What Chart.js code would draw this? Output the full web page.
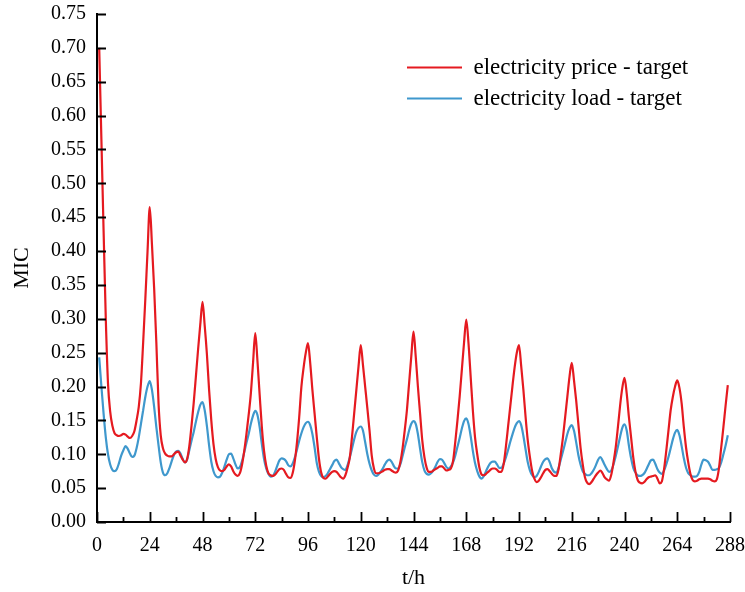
<!DOCTYPE html>
<html>
<head>
<meta charset="utf-8">
<script src="https://cdn.jsdelivr.net/npm/chart.js@4/dist/chart.umd.min.js"></script>
<style>
  html, body { margin: 0; padding: 0; background: #ffffff; }
  #wrap { width: 745px; height: 592px; }
</style>
</head>
<body>
<div id="wrap"><canvas id="c" width="745" height="592"></canvas></div>
<script>
// hour index (t/h)
const hours = Array.from({ length: 287 }, (_, i) => i + 1);

const seriesNames = ['electricity price - target', 'electricity load - target'];

// MIC: electricity price vs target
const priceMIC = [
  0.700, 0.565, 0.430, 0.300, 0.205, 0.163, 0.142, 0.131, 0.128, 0.127, 0.128, 0.130, 0.129, 0.126, 0.124, 0.127, 0.134, 0.150, 0.170, 0.205, 0.265, 0.330, 0.400, 0.465,
  0.410, 0.345, 0.265, 0.175, 0.128, 0.109, 0.101, 0.098, 0.097, 0.097, 0.100, 0.103, 0.104, 0.098, 0.092, 0.088, 0.093, 0.112, 0.142, 0.176, 0.215, 0.255, 0.292, 0.325,
  0.290, 0.248, 0.195, 0.150, 0.115, 0.093, 0.081, 0.076, 0.075, 0.077, 0.082, 0.085, 0.082, 0.075, 0.070, 0.068, 0.072, 0.085, 0.105, 0.130, 0.158, 0.190, 0.235, 0.279,
  0.238, 0.188, 0.140, 0.105, 0.083, 0.072, 0.069, 0.068, 0.070, 0.074, 0.078, 0.079, 0.077, 0.071, 0.066, 0.065, 0.072, 0.090, 0.118, 0.155, 0.200, 0.228, 0.250, 0.264,
  0.235, 0.195, 0.160, 0.125, 0.093, 0.073, 0.065, 0.064, 0.067, 0.071, 0.074, 0.075, 0.074, 0.070, 0.066, 0.064, 0.069, 0.080, 0.095, 0.125, 0.160, 0.195, 0.230, 0.261,
  0.232, 0.200, 0.168, 0.135, 0.098, 0.079, 0.072, 0.072, 0.073, 0.075, 0.077, 0.078, 0.078, 0.076, 0.074, 0.073, 0.076, 0.088, 0.108, 0.135, 0.165, 0.205, 0.245, 0.281,
  0.245, 0.200, 0.160, 0.120, 0.095, 0.080, 0.074, 0.074, 0.076, 0.078, 0.080, 0.082, 0.082, 0.079, 0.076, 0.077, 0.079, 0.090, 0.118, 0.150, 0.185, 0.225, 0.265, 0.299,
  0.265, 0.215, 0.165, 0.125, 0.100, 0.080, 0.070, 0.069, 0.071, 0.074, 0.077, 0.079, 0.079, 0.077, 0.074, 0.074, 0.085, 0.110, 0.140, 0.170, 0.200, 0.228, 0.250, 0.261,
  0.230, 0.195, 0.155, 0.120, 0.095, 0.075, 0.064, 0.059, 0.061, 0.066, 0.072, 0.077, 0.078, 0.075, 0.071, 0.068, 0.068, 0.078, 0.100, 0.125, 0.155, 0.185, 0.215, 0.235,
  0.210, 0.180, 0.145, 0.110, 0.085, 0.066, 0.058, 0.056, 0.059, 0.064, 0.069, 0.073, 0.076, 0.072, 0.066, 0.063, 0.061, 0.070, 0.088, 0.110, 0.140, 0.172, 0.198, 0.213,
  0.190, 0.155, 0.125, 0.095, 0.074, 0.062, 0.058, 0.057, 0.059, 0.063, 0.066, 0.067, 0.068, 0.069, 0.064, 0.057, 0.060, 0.078, 0.105, 0.135, 0.165, 0.185, 0.200, 0.209,
  0.198, 0.175, 0.140, 0.110, 0.088, 0.071, 0.062, 0.060, 0.061, 0.063, 0.064, 0.064, 0.064, 0.064, 0.063, 0.061, 0.060, 0.063, 0.080, 0.110, 0.140, 0.172, 0.202
];

// MIC: electricity load vs target
const loadMIC = [
  0.243, 0.200, 0.160, 0.125, 0.100, 0.085, 0.077, 0.075, 0.078, 0.087, 0.098, 0.106, 0.112, 0.108, 0.101, 0.096, 0.098, 0.109, 0.125, 0.145, 0.165, 0.185, 0.200, 0.208,
  0.195, 0.170, 0.140, 0.113, 0.088, 0.073, 0.069, 0.072, 0.080, 0.090, 0.099, 0.104, 0.105, 0.101, 0.093, 0.088, 0.092, 0.106, 0.120, 0.133, 0.148, 0.162, 0.173, 0.177,
  0.165, 0.142, 0.113, 0.089, 0.075, 0.068, 0.066, 0.067, 0.073, 0.082, 0.092, 0.100, 0.101, 0.094, 0.085, 0.079, 0.081, 0.090, 0.103, 0.117, 0.130, 0.145, 0.157, 0.164,
  0.158, 0.140, 0.115, 0.093, 0.079, 0.071, 0.067, 0.068, 0.074, 0.083, 0.091, 0.094, 0.093, 0.090, 0.084, 0.082, 0.086, 0.095, 0.107, 0.120, 0.131, 0.140, 0.146, 0.148,
  0.143, 0.130, 0.110, 0.087, 0.074, 0.068, 0.066, 0.068, 0.072, 0.078, 0.084, 0.090, 0.092, 0.087, 0.081, 0.078, 0.077, 0.084, 0.095, 0.108, 0.122, 0.133, 0.139, 0.141,
  0.135, 0.118, 0.100, 0.086, 0.076, 0.070, 0.068, 0.070, 0.074, 0.079, 0.085, 0.090, 0.092, 0.089, 0.083, 0.079, 0.079, 0.085, 0.097, 0.110, 0.122, 0.135, 0.145, 0.149,
  0.145, 0.130, 0.108, 0.088, 0.076, 0.071, 0.070, 0.072, 0.076, 0.082, 0.089, 0.093, 0.092, 0.087, 0.081, 0.079, 0.082, 0.088, 0.098, 0.111, 0.124, 0.138, 0.149, 0.153,
  0.145, 0.127, 0.105, 0.087, 0.075, 0.067, 0.064, 0.068, 0.075, 0.082, 0.087, 0.089, 0.089, 0.085, 0.080, 0.080, 0.086, 0.095, 0.106, 0.118, 0.129, 0.139, 0.146, 0.149,
  0.143, 0.127, 0.107, 0.088, 0.076, 0.069, 0.066, 0.068, 0.074, 0.082, 0.089, 0.093, 0.094, 0.088, 0.079, 0.074, 0.073, 0.080, 0.092, 0.104, 0.117, 0.130, 0.139, 0.143,
  0.135, 0.118, 0.099, 0.085, 0.075, 0.071, 0.069, 0.069, 0.072, 0.077, 0.084, 0.092, 0.096, 0.091, 0.084, 0.078, 0.074, 0.076, 0.085, 0.097, 0.111, 0.126, 0.139, 0.144,
  0.135, 0.113, 0.094, 0.080, 0.073, 0.069, 0.068, 0.069, 0.072, 0.078, 0.085, 0.091, 0.092, 0.086, 0.078, 0.073, 0.071, 0.076, 0.085, 0.096, 0.109, 0.122, 0.132, 0.136,
  0.128, 0.112, 0.094, 0.080, 0.072, 0.069, 0.067, 0.067, 0.068, 0.074, 0.085, 0.092, 0.091, 0.089, 0.083, 0.077, 0.077, 0.078, 0.080, 0.088, 0.100, 0.113, 0.128
];

const xTicks = [0, 24, 48, 72, 96, 120, 144, 168, 192, 216, 240, 264, 288];
const yTicks = [0, 0.05, 0.10, 0.15, 0.20, 0.25, 0.30, 0.35, 0.40, 0.45, 0.50, 0.55, 0.60, 0.65, 0.70, 0.75];

const FONT = "'Liberation Serif', 'Times New Roman', serif";
const RED = '#E51A20';
const BLUE = '#3F98CD';

const toPoints = (vals) => vals.map((v, i) => ({ x: hours[i], y: v }));

// inward tick marks drawn on the library's own scales
const inwardTicks = {
  id: 'inwardTicks',
  afterDraw(chart) {
    const { ctx, chartArea, scales } = chart;
    const xs = scales.x, ys = scales.y;
    ctx.save();
    ctx.strokeStyle = '#000';
    ctx.lineWidth = 1.8;
    ctx.beginPath();
    yTicks.forEach(v => {
      const py = Math.round(ys.getPixelForValue(v)) + 0.5;
      ctx.moveTo(chartArea.left, py);
      ctx.lineTo(chartArea.left + 9, py);
    });
    for (let t = 0; t <= 288; t += 12) {
      const px = Math.round(xs.getPixelForValue(t)) + 0.5;
      const len = (t % 24 === 0) ? 10 : 5;
      ctx.moveTo(px, chartArea.bottom);
      ctx.lineTo(px, chartArea.bottom - len);
    }
    ctx.stroke();
    ctx.restore();
  }
};

// place the legend box inside the plot, upper right
const legendPlacer = {
  id: 'legendPlacer',
  afterLayout(chart) {
    const lg = chart.legend;
    if (!lg) return;
    lg.left = 399; lg.top = 48; lg.right = 745; lg.bottom = 300;
    lg.width = lg.right - lg.left; lg.height = lg.bottom - lg.top;
  }
};

new Chart(document.getElementById('c'), {
  type: 'line',
  data: {
    datasets: [
      { label: seriesNames[0], data: toPoints(priceMIC), borderColor: RED, backgroundColor: RED,
        borderWidth: 2.2, pointRadius: 0, cubicInterpolationMode: 'monotone', fill: false },
      { label: seriesNames[1], data: toPoints(loadMIC), borderColor: BLUE, backgroundColor: BLUE,
        borderWidth: 2.2, pointRadius: 0, cubicInterpolationMode: 'monotone', fill: false }
    ]
  },
  options: {
    responsive: false,
    animation: false,
    devicePixelRatio: 1,
    layout: { padding: { left: 0, right: 15, top: 14, bottom: 0 } },
    plugins: {
      legend: {
        position: 'chartArea',
        align: 'start',
        labels: {
          usePointStyle: true,
          pointStyle: 'line',
          pointStyleWidth: 55,
          boxHeight: 23,
          padding: 8,
          color: '#000',
          font: { family: FONT, size: 23 }
        }
      },
      tooltip: { enabled: false }
    },
    scales: {
      x: {
        type: 'linear',
        min: 0, max: 288,
        afterBuildTicks: (s) => { s.ticks = xTicks.map(v => ({ value: v })); },
        afterFit: (s) => { s.height = 70; s.paddingLeft = 0; s.paddingRight = 0; },
        grid: { display: false, drawTicks: false },
        border: { display: true, color: '#000', width: 2 },
        ticks: { color: '#000', padding: 12, maxRotation: 0, autoSkip: false,
                 font: { family: FONT, size: 20 }, callback: (v) => String(v) },
        title: { display: true, text: 't/h', color: '#000', font: { family: FONT, size: 22 },
                 padding: { top: 2, bottom: 1 } }
      },
      y: {
        type: 'linear',
        min: 0, max: 0.75,
        afterBuildTicks: (s) => { s.ticks = yTicks.map(v => ({ value: v })); },
        afterFit: (s) => { s.width = 97; s.paddingTop = 0; s.paddingBottom = 0; },
        grid: { display: false, drawTicks: false },
        border: { display: true, color: '#000', width: 2 },
        ticks: { color: '#000', padding: 11, autoSkip: false,
                 font: { family: FONT, size: 20 }, callback: (v) => Number(v).toFixed(2) },
        title: { display: true, text: 'MIC', color: '#000', font: { family: FONT, size: 22 },
                 padding: { top: 9, bottom: 0 } }
      }
    }
  },
  plugins: [inwardTicks, legendPlacer]
});
</script>
</body>
</html>
